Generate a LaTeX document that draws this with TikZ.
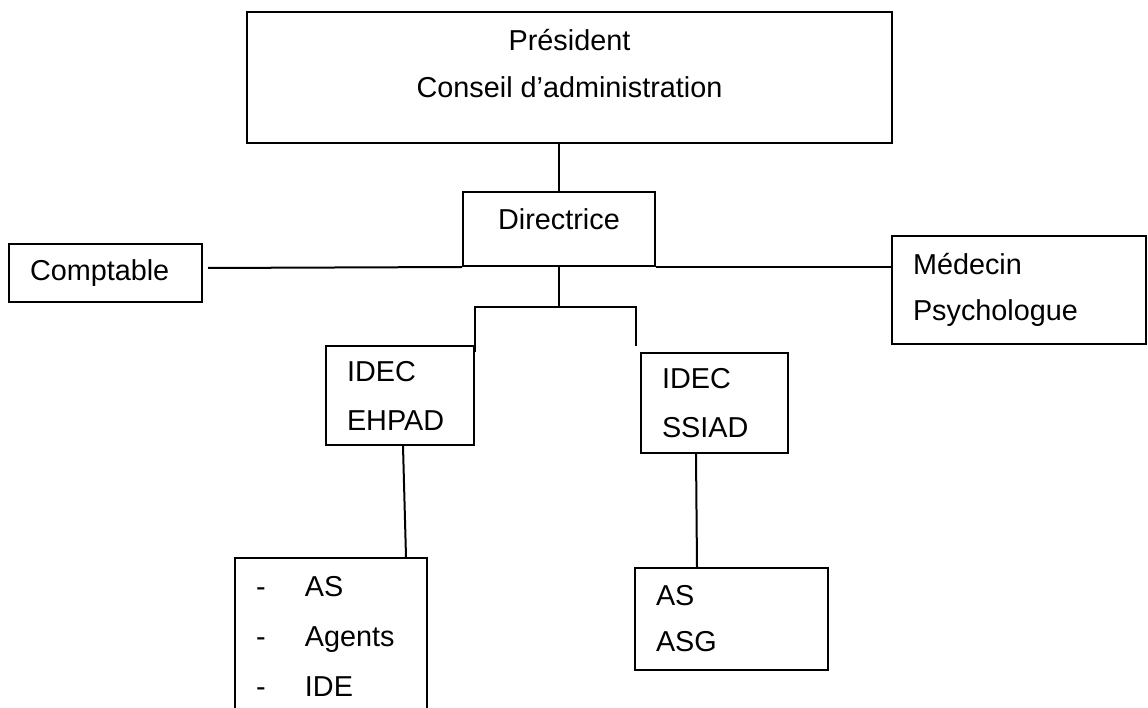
\documentclass[tikz,border=0pt]{standalone}
\usepackage{fontspec}
\setmainfont{Liberation Sans}
\newcommand\orgfont{\fontsize{28.8}{48}\selectfont}
\tikzset{
  box/.style={draw, line width=2pt, inner xsep=21pt, inner ysep=0pt, align=left, font=\orgfont},
  link/.style={line width=2pt},
}
\begin{document}
\begin{tikzpicture}[x=1pt, y=-1pt]
    \useasboundingbox (0,0) rectangle (1148,708);

    \node[box, align=center, minimum width=645pt, minimum height=131pt] (pres) at (569.5,77.5)
        {Président\\[-1pt]Conseil d’administration\rule[-29pt]{0pt}{29pt}};
    \node[box, align=center, minimum width=192pt, minimum height=74pt, text depth=19pt] (dir) at (559,229) {Directrice};
    \node[box, text width=151pt, minimum height=58pt] (comp) at (105.5,273) {Comptable};
    \node[box, text width=212pt, minimum height=108pt] (med) at (1019,290) {Médecin\\[-2pt]Psychologue};
    \node[box, text width=106pt, minimum height=99pt] (ehpad) at (400,395.5) {IDEC\\[1pt]EHPAD};
    \node[box, text width=105pt, minimum height=100pt] (ssiad) at (714.5,403) {IDEC\\[1pt]SSIAD};
    \node[box, text width=150pt, minimum height=157pt] (staffa) at (331,636.5)
        {\makebox[49pt][l]{-}AS\\[2pt]\makebox[49pt][l]{-}Agents\\[2pt]\makebox[49pt][l]{-}IDE};
    \node[box, text width=151pt, minimum height=102pt] (staffb) at (731.5,619) {AS\\[-2pt]ASG};

    \coordinate (fork) at (560,307);
    \draw[link] (dir.north) -- (dir.north |- pres.south);
    \draw[link] ([xshift=5pt,yshift=5pt]comp.east) -- (dir.south west);
    \draw[link] (dir.south east) -- (dir.south east -| med.west);
    \draw[link] (dir.south) -- (dir.south |- fork);
    \draw[link] (dir.south |- fork) -| ([yshift=-7pt]ehpad.north east);
    \draw[link] (dir.south |- fork) -| ([xshift=-4pt,yshift=6pt]ssiad.north west);
    \draw[link] ([xshift=3pt]ehpad.south) -- ([xshift=75pt]staffa.north);
    \draw[link] ([xshift=-18.5pt]ssiad.south) -- ([xshift=-34.5pt]staffb.north);
\end{tikzpicture}
\end{document}
